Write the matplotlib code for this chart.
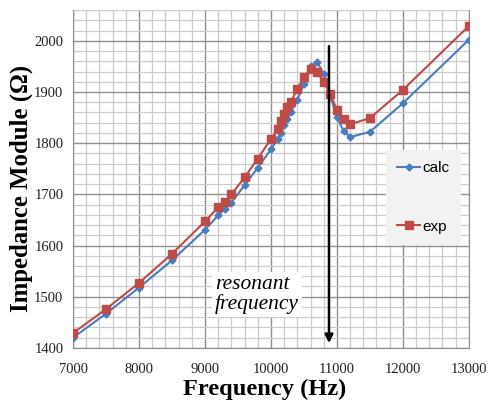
import matplotlib.pyplot as plt
from matplotlib.ticker import MultipleLocator

freq = [7000, 7500, 8000, 8500, 9000, 9200, 9300, 9400, 9600, 9800,
        10000, 10100, 10150, 10200, 10250, 10300, 10400, 10500, 10600,
        10700, 10800, 10900, 11000, 11100, 11200, 11500, 12000, 13000]
calc = [1420, 1467, 1518, 1571, 1631, 1659, 1671, 1684, 1718, 1752,
        1788, 1808, 1820, 1835, 1848, 1860, 1885, 1915, 1950,
        1959, 1935, 1892, 1851, 1824, 1812, 1822, 1878, 2002]
exp_ = [1429, 1476, 1527, 1584, 1647, 1675, 1686, 1700, 1733, 1770,
        1808, 1827, 1843, 1857, 1871, 1880, 1906, 1929, 1945,
        1939, 1920, 1896, 1865, 1847, 1837, 1849, 1904, 2029]
resonance = 10880

fig = plt.figure(figsize=(4.94, 4.05), dpi=100)
ax = fig.add_axes([0.148, 0.141, 0.801, 0.834])

ax.plot(freq, calc, color='#4a7ebb', marker='D', markersize=3.5, lw=1.5, label='calc', zorder=3)
ax.plot(freq, exp_, color='#be4b48', marker='s', markersize=6, lw=1.5, label='exp', zorder=3)

ax.set_xlim(7000, 13000)
ax.set_ylim(1400, 2060)
ax.xaxis.set_major_locator(MultipleLocator(1000))
ax.xaxis.set_minor_locator(MultipleLocator(200))
ax.yaxis.set_major_locator(MultipleLocator(100))
ax.yaxis.set_minor_locator(MultipleLocator(20))
ax.grid(which='major', color='#909090', lw=1.0)
ax.grid(which='minor', color='#cccccc', lw=0.9)
ax.set_axisbelow(True)
for s in ax.spines.values():
    s.set_color('#909090')
ax.spines['top'].set_visible(False)
ax.tick_params(which='both', length=0, labelsize=10.5, colors='#222222')
ax.tick_params(axis='x', pad=11)
ax.tick_params(axis='y', pad=7)
for lab in ax.get_xticklabels() + ax.get_yticklabels():
    lab.set_fontfamily('Liberation Serif')

ax.set_xlabel('Frequency (Hz)', family='Liberation Serif', weight='bold', fontsize=17.6)
ax.set_ylabel('Impedance Module (Ω)', family='Liberation Serif', weight='bold', fontsize=17.8)
ax.xaxis.set_label_coords(0.485, -0.092)
ax.yaxis.set_label_coords(-0.101, 0.473)

ax.annotate('', xy=(resonance, 1404), xytext=(resonance, 1995),
            arrowprops=dict(arrowstyle='-|>', color='black', lw=1.8, mutation_scale=12), zorder=5)
ax.text(9150, 1504, 'resonant\nfrequency', family='Liberation Serif', style='italic',
        fontsize=15.5, ha='left', va='center', linespacing=1.05,
        bbox=dict(facecolor='white', edgecolor='none', pad=2), zorder=4)

leg = ax.legend(loc='center', bbox_to_anchor=(0.857, 0.512), bbox_transform=fig.transFigure,
                frameon=True, fancybox=False, labelspacing=2.9, handlelength=1.5,
                handletextpad=0.15, borderpad=0.75, borderaxespad=0,
                prop={'family': 'Liberation Sans', 'size': 11})
leg.get_frame().set_facecolor('#f2f2f2')
leg.get_frame().set_edgecolor('none')
leg.get_frame().set_alpha(1)

fig.savefig('out.png', dpi=100)
